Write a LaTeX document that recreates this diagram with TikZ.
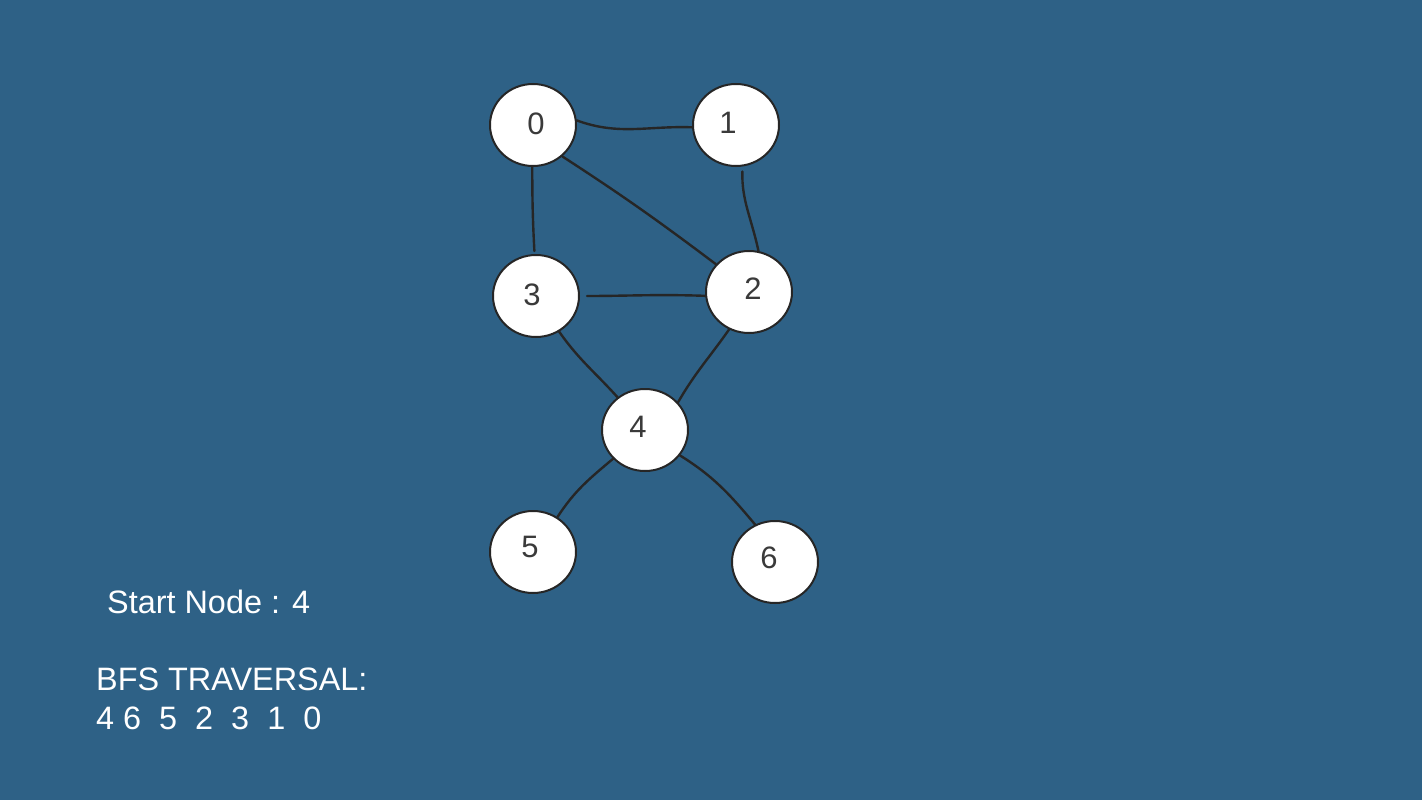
\documentclass[tikz,border=0pt]{standalone}
\usepackage{fontspec}
\setmainfont{Liberation Sans}
\definecolor{bgblue}{RGB}{46,97,134}
\definecolor{inkdark}{RGB}{38,38,38}
\definecolor{digitgray}{RGB}{58,58,58}
\tikzset{
  vert/.style={ellipse, draw=inkdark, line width=2pt, fill=white,
    minimum width=86pt, minimum height=82pt, inner sep=0pt},
  digit/.style={text=digitgray, font=\fontsize{31}{36}\selectfont, inner sep=0pt},
  edge/.style={draw=inkdark, line width=2.4pt, line cap=round},
  caption/.style={text=white, font=\fontsize{32.4}{39}\selectfont, inner sep=0pt, anchor=base west}
}
\usetikzlibrary{shapes.geometric}
\begin{document}
\begin{tikzpicture}[x=1pt,y=-1pt]
  \fill[bgblue] (0,0) rectangle (1422,800);
  \useasboundingbox (0,0) rectangle (1422,800);

  % vertices
  \node[vert] (n0) at (533,125) {};
  \node[vert] (n1) at (736,125) {};
  \node[vert] (n2) at (749,292) {};
  \node[vert] (n3) at (536,296) {};
  \node[vert] (n4) at (645,430) {};
  \node[vert] (n5) at (533,552) {};
  \node[vert] (n6) at (775,562) {};

  % vertex labels
  \node[digit] (l0) at (536,124) {0};
  \node[digit] (l1) at (728,123) {1};
  \node[digit] (l2) at (753,289) {2};
  \node[digit] (l3) at (532,295) {3};
  \node[digit] (l4) at (638,427) {4};
  \node[digit] (l5) at (530,547) {5};
  \node[digit] (l6) at (769,558) {6};

  % hand-drawn edges
  \draw[edge] (n0.6) to[out=-20,in=178] (n1.183);
  \draw[edge, shorten >=3pt] (n0.269) to[out=-90,in=93] (n3.92);
  \draw[edge] (n0.313) to[out=-33,in=143] (n2.140);
  \draw[edge, shorten <=5pt] (n1.279) to[out=-92,in=102] (n2.77);
  \draw[edge, shorten <=7pt] (n3.0) to[out=0,in=178] (n2.185);
  \draw[edge] (n3.303) to[out=-55,in=132] (n4.130);
  \draw[edge] (n2.242) to[out=-125,in=60] (n4.40);
  \draw[edge] (n4.222) to[out=-140,in=57] (n5.55);
  \draw[edge] (n4.324) to[out=-32,in=130] (n6.118);

  % traversal summary
  \node[caption] (start) at (107,613) {Start Node : 4};
  \node[caption] (bfs) at (96,690) {BFS TRAVERSAL:};
  \node[caption] (order) at (96,729) {4 6\ \ 5\ \ 2\ \ 3\ \ 1\ \ 0};
\end{tikzpicture}
\end{document}
